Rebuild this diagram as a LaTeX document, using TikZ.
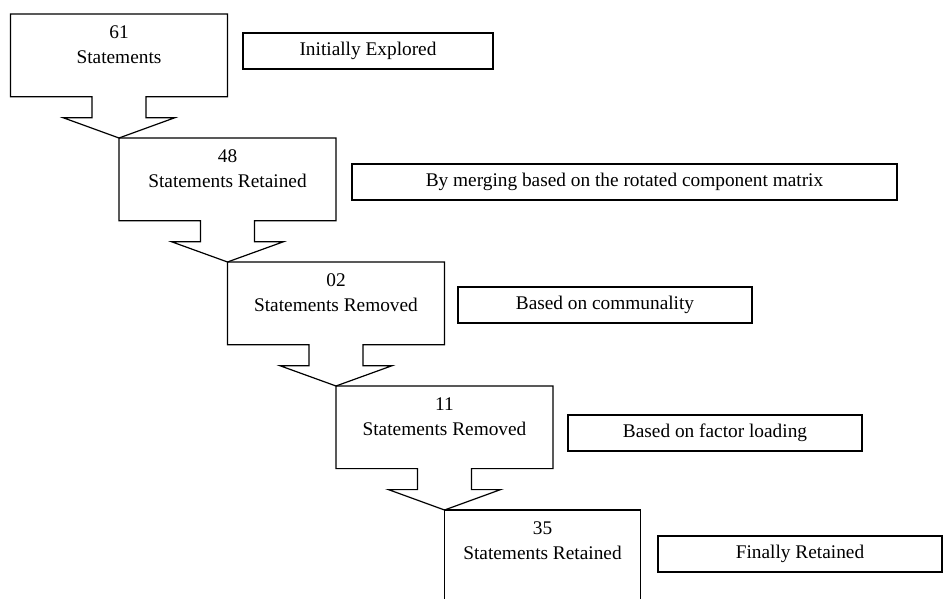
\documentclass[tikz,border=0pt]{standalone}
\usepackage{fontspec}
\setmainfont{Liberation Serif}
\begin{document}
\begin{tikzpicture}[x=0.75pt, y=-0.75pt,
    stage/.style={anchor=north west, inner xsep=0pt, inner ysep=9pt, outer sep=0pt,
        minimum width=162.75pt, align=center, text depth=15.65pt,
        font=\fontsize{14.5pt}{18.75pt}\selectfont},
    note/.style={draw, anchor=north west, inner sep=0pt, outer sep=0pt,
        minimum height=27pt, font=\fontsize{14.5pt}{17pt}\selectfont},
    line width=0.9pt]
    \useasboundingbox (0,0) rectangle (943,599);

    % stages
    \node[stage] (s1) at (10.5,14) {61\\Statements};
    \node[stage] (s2) at (119,138) {48\\Statements Retained};
    \node[stage] (s3) at (227.5,262) {02\\Statements Removed};
    \node[stage] (s4) at (336,386) {11\\Statements Removed};
    \node[stage, minimum width=147pt] (s5) at (444.5,510) {35\\Statements Retained};

    % notes
    \node[note, minimum width=187.5pt] (n1) at (243,33) {Initially Explored};
    \node[note, minimum width=408.75pt] (n2) at (352,164) {By merging based on the rotated component matrix};
    \node[note, minimum width=220.5pt] (n3) at (458,287) {Based on communality};
    \node[note, minimum width=220.5pt] (n4) at (568,415) {Based on factor loading};
    \node[note, minimum width=213pt] (n5) at (658,536) {Finally Retained};

    % box outlines with arrows
    \foreach \cur/\nxt in {s1/s2, s2/s3, s3/s4, s4/s5}
        \draw (\cur.south west) -- (\cur.north west) -- (\cur.north east) -- (\cur.south east)
            -- ([xshift=20.25pt]\cur.south) -- ++(0,21) -- ++(29,0) -- (\nxt.north west)
            -- ([xshift=-42pt, yshift=-15.75pt]\cur.south) -- ++(29,0) -- ++(0,-21) -- cycle;
    \draw ([yshift=-20pt]s5.south west) -- (s5.north west) -- (s5.north east) -- ([yshift=-20pt]s5.south east);
\end{tikzpicture}
\end{document}
